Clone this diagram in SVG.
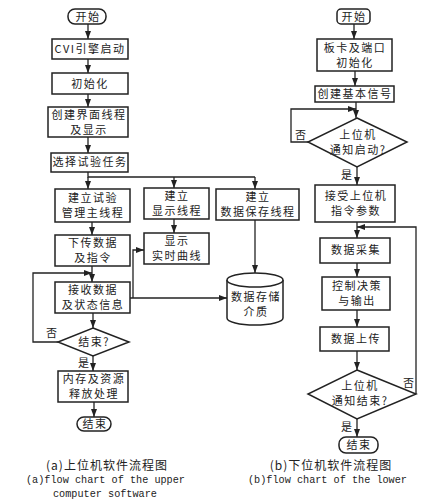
<svg xmlns="http://www.w3.org/2000/svg" width="429" height="502" viewBox="0 0 429 502">
<defs>
<marker id="ah" markerUnits="userSpaceOnUse" markerWidth="8" markerHeight="8" viewBox="0 0 8 8" refX="8" refY="4" orient="auto">
<path d="M0,1 L8,4 L0,7 Z" fill="#222"/>
</marker>
</defs>
<style>
.b{fill:#fff;stroke:#222;stroke-width:1.5}
.c{fill:none;stroke:#222;stroke-width:1.3}
.a{marker-end:url(#ah)}
.t{font-family:"Noto Sans CJK SC","Liberation Sans",sans-serif;font-size:11px;fill:#222;text-anchor:middle;letter-spacing:1.5px}
.s{font-family:"Noto Sans CJK SC","Liberation Sans",sans-serif;font-size:11px;fill:#222}
.m{font-family:"Liberation Mono","Noto Sans CJK SC",monospace;font-size:10.2px;fill:#222}
</style>
<rect width="429" height="502" fill="#fff"/>
<g id="connectors">
<path class="c a" d="M88,24 V39"/>
<path class="c a" d="M88,59 V73"/>
<path class="c a" d="M88,94 V107"/>
<path class="c a" d="M88,137 V153"/>
<path class="c" d="M88,172 V177 H255"/>
<path class="c a" d="M88,177 V189"/>
<path class="c a" d="M174,177 V188"/>
<path class="c a" d="M255,177 V189"/>
<path class="c a" d="M92,222 V235"/>
<path class="c a" d="M174,219 V233"/>
<path class="c a" d="M255,220 V273"/>
<path class="c a" d="M92,266 V282"/>
<path class="c a" d="M58,342 H33 V273 H92"/>
<path class="c a" d="M130,298 H227"/>
<path class="c a" d="M133,298 V250 H144"/>
<path class="c a" d="M93,313 V328"/>
<path class="c a" d="M93,356 V371"/>
<path class="c a" d="M94,402 V417"/>
<path class="c a" d="M354,24 V39"/>
<path class="c a" d="M355,71 V86"/>
<path class="c a" d="M356,102 V118"/>
<path class="c a" d="M308,142 H291 V109 H356"/>
<path class="c a" d="M357,167 V185"/>
<path class="c a" d="M357,222 V238"/>
<path class="c a" d="M416,394 V227 H357"/>
<path class="c a" d="M357,263 V277"/>
<path class="c a" d="M357,310 V327"/>
<path class="c a" d="M357,351 V370"/>
<path class="c a" d="M357,419 V437"/>
</g>
<g id="start1"><rect class="b" x="68" y="9" width="38" height="15" rx="7"/><text class="t" x="88" y="21">开始</text></g>
<g id="cvi"><rect class="b" x="52" y="39" width="76" height="20"/><text class="t" x="90" y="53">CVI引擎启动</text></g>
<g id="init1"><rect class="b" x="52" y="73" width="76" height="21"/><text class="t" x="90" y="88">初始化</text></g>
<g id="ui"><rect class="b" x="48" y="107" width="80" height="30"/><text class="t" x="89" y="119">创建界面线程</text><text class="t" x="89" y="134">及显示</text></g>
<g id="select"><rect class="b" x="51" y="153" width="77" height="19"/><text class="t" x="90" y="166">选择试验任务</text></g>
<g id="mainthread"><rect class="b" x="55" y="189" width="75" height="33"/><text class="t" x="93" y="202">建立试验</text><text class="t" x="93" y="217">管理主线程</text></g>
<g id="download"><rect class="b" x="55" y="235" width="75" height="31"/><text class="t" x="93" y="247">下传数据</text><text class="t" x="93" y="262">及指令</text></g>
<g id="receive"><rect class="b" x="55" y="282" width="75" height="31"/><text class="t" x="93" y="294">接收数据</text><text class="t" x="93" y="309">及状态信息</text></g>
<g id="end1q"><polygon class="b" points="93,328 129,342 93,356 58,342"/><text class="t" x="94" y="346">结束?</text><text class="s" x="46" y="337">否</text><text class="s" x="78" y="367">是</text></g>
<g id="release"><rect class="b" x="58" y="371" width="70" height="31"/><text class="t" x="94" y="383">内存及资源</text><text class="t" x="94" y="398">释放处理</text></g>
<g id="end1"><rect class="b" x="77" y="417" width="34" height="14" rx="7"/><text class="t" x="95" y="428">结束</text></g>
<g id="dispthread"><rect class="b" x="144" y="188" width="65" height="31"/><text class="t" x="177" y="200">建立</text><text class="t" x="177" y="215">显示线程</text></g>
<g id="curve"><rect class="b" x="144" y="233" width="65" height="31"/><text class="t" x="177" y="245">显示</text><text class="t" x="177" y="260">实时曲线</text></g>
<g id="savethread"><rect class="b" x="216" y="189" width="83" height="31"/><text class="t" x="258" y="201">建立</text><text class="t" x="258" y="216">数据保存线程</text></g>
<g id="storage"><path class="b" d="M227,280 V318 A28,7 0 0 0 283,318 V280"/><ellipse class="b" cx="255" cy="280" rx="28" ry="7"/><text class="t" x="256" y="301">数据存储</text><text class="t" x="256" y="316">介质</text></g>
<g id="start2"><rect class="b" x="337" y="9" width="33" height="15" rx="4"/><text class="t" x="354" y="21">开始</text></g>
<g id="boardinit"><rect class="b" x="317" y="39" width="75" height="32"/><text class="t" x="355" y="52">板卡及端口</text><text class="t" x="355" y="67">初始化</text></g>
<g id="signal"><rect class="b" x="315" y="86" width="79" height="16"/><text class="t" x="355" y="98">创建基本信号</text></g>
<g id="startq"><polygon class="b" points="357,118 407,142 357,167 308,142"/><text class="t" x="358" y="139">上位机</text><text class="t" x="358" y="154">通知启动?</text><text class="s" x="295" y="139">否</text><text class="s" x="341" y="179">是</text></g>
<g id="params"><rect class="b" x="315" y="185" width="80" height="37"/><text class="t" x="356" y="200">接受上位机</text><text class="t" x="356" y="215">指令参数</text></g>
<g id="acq"><rect class="b" x="320" y="238" width="70" height="25"/><text class="t" x="356" y="254">数据采集</text></g>
<g id="control"><rect class="b" x="322" y="277" width="68" height="33"/><text class="t" x="357" y="290">控制决策</text><text class="t" x="357" y="305">与输出</text></g>
<g id="upload"><rect class="b" x="320" y="327" width="69" height="24"/><text class="t" x="356" y="343">数据上传</text></g>
<g id="endq"><polygon class="b" points="357,370 416,394 357,419 308,394"/><text class="t" x="360" y="390">上位机</text><text class="t" x="360" y="405">通知结束?</text><text class="s" x="403" y="387">否</text><text class="s" x="341" y="431">是</text></g>
<g id="end2"><rect class="b" x="339" y="437" width="39" height="16" rx="7"/><text class="t" x="359" y="449">结束</text></g>
<g id="captions">
<text class="s" x="107" y="470" text-anchor="middle" style="font-size:12px;letter-spacing:1px">(a)上位机软件流程图</text>
<text class="m" x="26" y="483">(a)flow chart of the upper</text>
<text class="m" x="53" y="497">computer software</text>
<text class="s" x="331" y="470" text-anchor="middle" style="font-size:12px;letter-spacing:1px">(b)下位机软件流程图</text>
<text class="m" x="248" y="483">(b)flow chart of the lower</text>
</g>
</svg>
